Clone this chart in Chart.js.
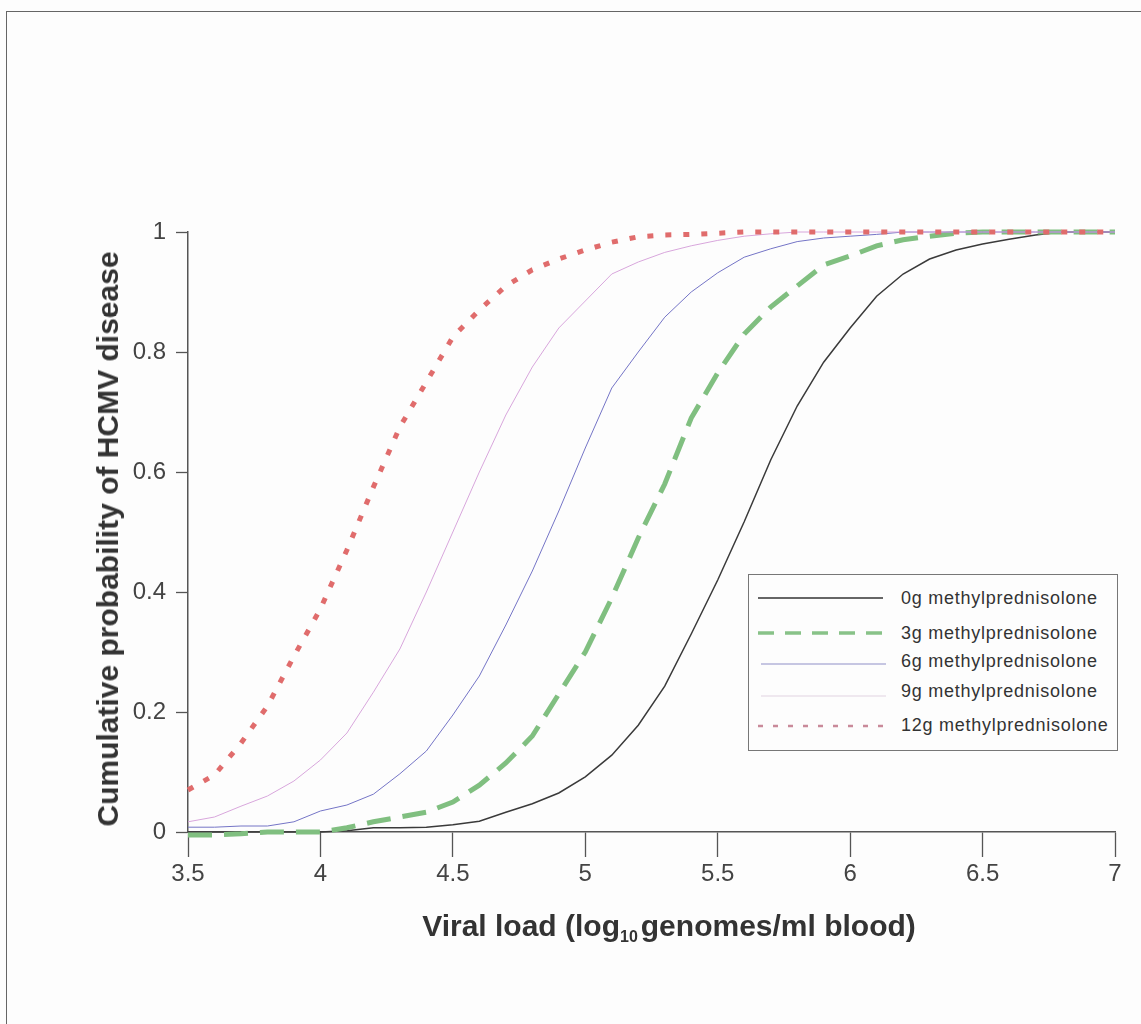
<!DOCTYPE html>
<html>
<head>
<meta charset="utf-8">
<script src="https://cdn.jsdelivr.net/npm/chart.js@4.4.1/dist/chart.umd.min.js"></script>
<style>
  html, body { margin:0; padding:0; background:#fdfdfd; }
  #wrap { position:relative; width:1141px; height:1024px; overflow:hidden; background:#fdfdfd; font-family:"Liberation Sans", Arial, sans-serif; }
  #frame { position:absolute; left:6px; top:11px; width:1200px; height:1100px; border-left:1.5px solid #666; border-top:1.5px solid #666; }
  canvas { position:absolute; left:0; top:0; }
  .ytitle { position:absolute; left:108px; top:539px; transform:translate(-50%,-50%) rotate(-90deg); white-space:nowrap; font-weight:bold; font-size:30px; color:#333; line-height:1; }
  .xtitle { position:absolute; left:669px; top:911px; transform:translateX(-50%); white-space:nowrap; font-weight:bold; font-size:30px; color:#333; line-height:1; }
  .xtitle .sub { font-size:16px; position:relative; top:6px; margin-right:3px; }
  #legend { position:absolute; left:748px; top:574px; width:368px; height:175px; border:1.3px solid #777; background:#fdfdfd; }
  .lt { position:absolute; left:152px; font-size:18px; letter-spacing:0.75px; color:#333; white-space:nowrap; line-height:1; transform:translateY(-50%); }
  #legsvg { position:absolute; left:0; top:0; }
</style>
</head>
<body>
<div id="wrap">
  <div id="frame"></div>
  <canvas id="c" width="1141" height="1024"></canvas>
  <div class="ytitle">Cumulative probability of HCMV disease</div>
  <div class="xtitle">Viral load (log<span class="sub">10</span>genomes/ml blood)</div>
  <div id="legend"></div>
</div>
<script>
// ---- data ----
const xValues = [3.5,3.6,3.7,3.8,3.9,4.0,4.1,4.2,4.3,4.4,4.5,4.6,4.7,4.8,4.9,5.0,5.1,5.2,5.3,5.4,5.5,5.6,5.7,5.8,5.9,6.0,6.1,6.2,6.3,6.4,6.5,6.6,6.7,6.8,6.9,7.0,7.1];
const seriesNames = ['0g methylprednisolone','3g methylprednisolone','6g methylprednisolone','9g methylprednisolone','12g methylprednisolone'];
const mp0g  = [0,0,0,0,0,0,0.002,0.007,0.007,0.008,0.012,0.018,0.033,0.047,0.065,0.092,0.128,0.178,0.243,0.33,0.42,0.517,0.62,0.71,0.783,0.84,0.893,0.93,0.955,0.97,0.98,0.988,0.995,1.0,1.0,1.0,1.0];
const mp3g  = [-0.005,-0.005,-0.003,0,0,0,0.007,0.017,0.025,0.033,0.05,0.078,0.115,0.16,0.23,0.30,0.39,0.49,0.58,0.69,0.765,0.83,0.875,0.91,0.945,0.96,0.977,0.987,0.993,0.998,1.0,1.0,1.0,1.0,1.0,1.0,1.0];
const mp6g  = [0.008,0.008,0.01,0.01,0.017,0.035,0.045,0.063,0.097,0.135,0.195,0.26,0.345,0.435,0.535,0.64,0.74,0.80,0.858,0.90,0.932,0.958,0.972,0.984,0.99,0.993,0.996,1.0,1.0,1.0,1.0,1.0,1.0,1.0,1.0,1.0,1.0];
const mp9g  = [0.017,0.025,0.043,0.06,0.085,0.12,0.165,0.233,0.305,0.40,0.50,0.60,0.695,0.775,0.84,0.885,0.93,0.95,0.966,0.977,0.986,0.993,0.997,1.0,1.0,1.0,1.0,1.0,1.0,1.0,1.0,1.0,1.0,1.0,1.0,1.0,1.0];
const mp12g = [0.07,0.095,0.148,0.21,0.293,0.372,0.47,0.575,0.675,0.75,0.825,0.87,0.91,0.937,0.955,0.97,0.983,0.992,0.995,0.996,0.998,1.0,1.0,1.0,1.0,1.0,1.0,1.0,1.0,1.0,1.0,1.0,1.0,1.0,1.0,1.0,1.0];
const xTickValues = [3.5,4,4.5,5,5.5,6,6.5,7];
const xTickLabels = ['3.5','4','4.5','5','5.5','6','6.5','7'];
const yTickValues = [0,0.2,0.4,0.6,0.8,1];
const yTickLabels = ['0','0.2','0.4','0.6','0.8','1'];

// ---- styles ----
const FAMILY = '"Liberation Sans", Arial, sans-serif';
const styles = [
  {color:'#3a3a3a', width:1.5, dash:[],      legColor:'#333333', legWidth:1.5, legDash:''},
  {color:'#80bf80', width:5,   dash:[24,12], legColor:'#88c288', legWidth:3.5, legDash:'16 11'},
  {color:'#7474c6', width:1,   dash:[],      legColor:'#9090c8', legWidth:1.2, legDash:''},
  {color:'#d8a6dc', width:1,   dash:[],      legColor:'#e2d4e2', legWidth:1.2, legDash:''},
  {color:'#e06c6c', width:5,   dash:[6,12],  legColor:'#c98a9a', legWidth:2.5, legDash:'5 10'}
];
const allSeries = [mp0g, mp3g, mp6g, mp9g, mp12g];
const drawOrder = [4,3,2,1,0];

const datasets = drawOrder.map(i => ({
  label: seriesNames[i],
  data: xValues.map((x, k) => ({x: x, y: allSeries[i][k]})),
  borderColor: styles[i].color,
  borderWidth: styles[i].width,
  borderDash: styles[i].dash,
  borderCapStyle: 'butt',
  pointRadius: 0,
  tension: 0,
  fill: false,
  clip: false
}));

new Chart(document.getElementById('c').getContext('2d'), {
  type: 'line',
  data: { datasets: datasets },
  options: {
    responsive: false,
    animation: false,
    devicePixelRatio: 1,
    layout: { padding: { top: 232, right: 26, left: 0, bottom: 0 } },
    plugins: { legend: { display: false }, tooltip: { enabled: false } },
    scales: {
      x: {
        type: 'linear', min: 3.5, max: 7,
        afterFit(s) { s.height = 192; },
        afterBuildTicks(s) { s.ticks = xTickValues.map(v => ({value: v})); },
        ticks: { callback: (v, i) => xTickLabels[i], font: { size: 24, family: FAMILY }, color: '#444', padding: 3, maxRotation: 0, autoSkip: false },
        grid: { drawOnChartArea: false, drawTicks: true, tickLength: 25, tickColor: '#555', tickWidth: 1.3 },
        border: { color: '#555', width: 1.5 }
      },
      y: {
        type: 'linear', min: 0, max: 1,
        afterFit(s) { s.width = 188; },
        afterBuildTicks(s) { s.ticks = yTickValues.map(v => ({value: v})); },
        ticks: { callback: (v, i) => yTickLabels[i], font: { size: 24, family: FAMILY }, color: '#444', padding: 10 },
        grid: { drawOnChartArea: false, drawTicks: true, tickLength: 12, tickColor: '#555', tickWidth: 1.3 },
        border: { color: '#555', width: 1.5 }
      }
    }
  }
});

// ---- legend (HTML) ----
const legend = document.getElementById('legend');
const lineRows = [23, 58, 89, 121, 151];
const textRows = [23, 58, 86, 116, 150];
const lineX = [[9,134],[9,135],[12,137],[12,137],[9,137]];
let svg = '<svg id="legsvg" width="368" height="175" xmlns="http://www.w3.org/2000/svg">';
styles.forEach((s, i) => {
  svg += '<line x1="' + lineX[i][0] + '" y1="' + lineRows[i] + '" x2="' + lineX[i][1] + '" y2="' + lineRows[i] + '" stroke="' + s.legColor + '" stroke-width="' + s.legWidth + '"' + (s.legDash ? ' stroke-dasharray="' + s.legDash + '"' : '') + '/>';
});
svg += '</svg>';
let html = svg;
seriesNames.forEach((n, i) => {
  html += '<div class="lt" style="top:' + textRows[i] + 'px">' + n + '</div>';
});
legend.innerHTML = html;
</script>
</body>
</html>
